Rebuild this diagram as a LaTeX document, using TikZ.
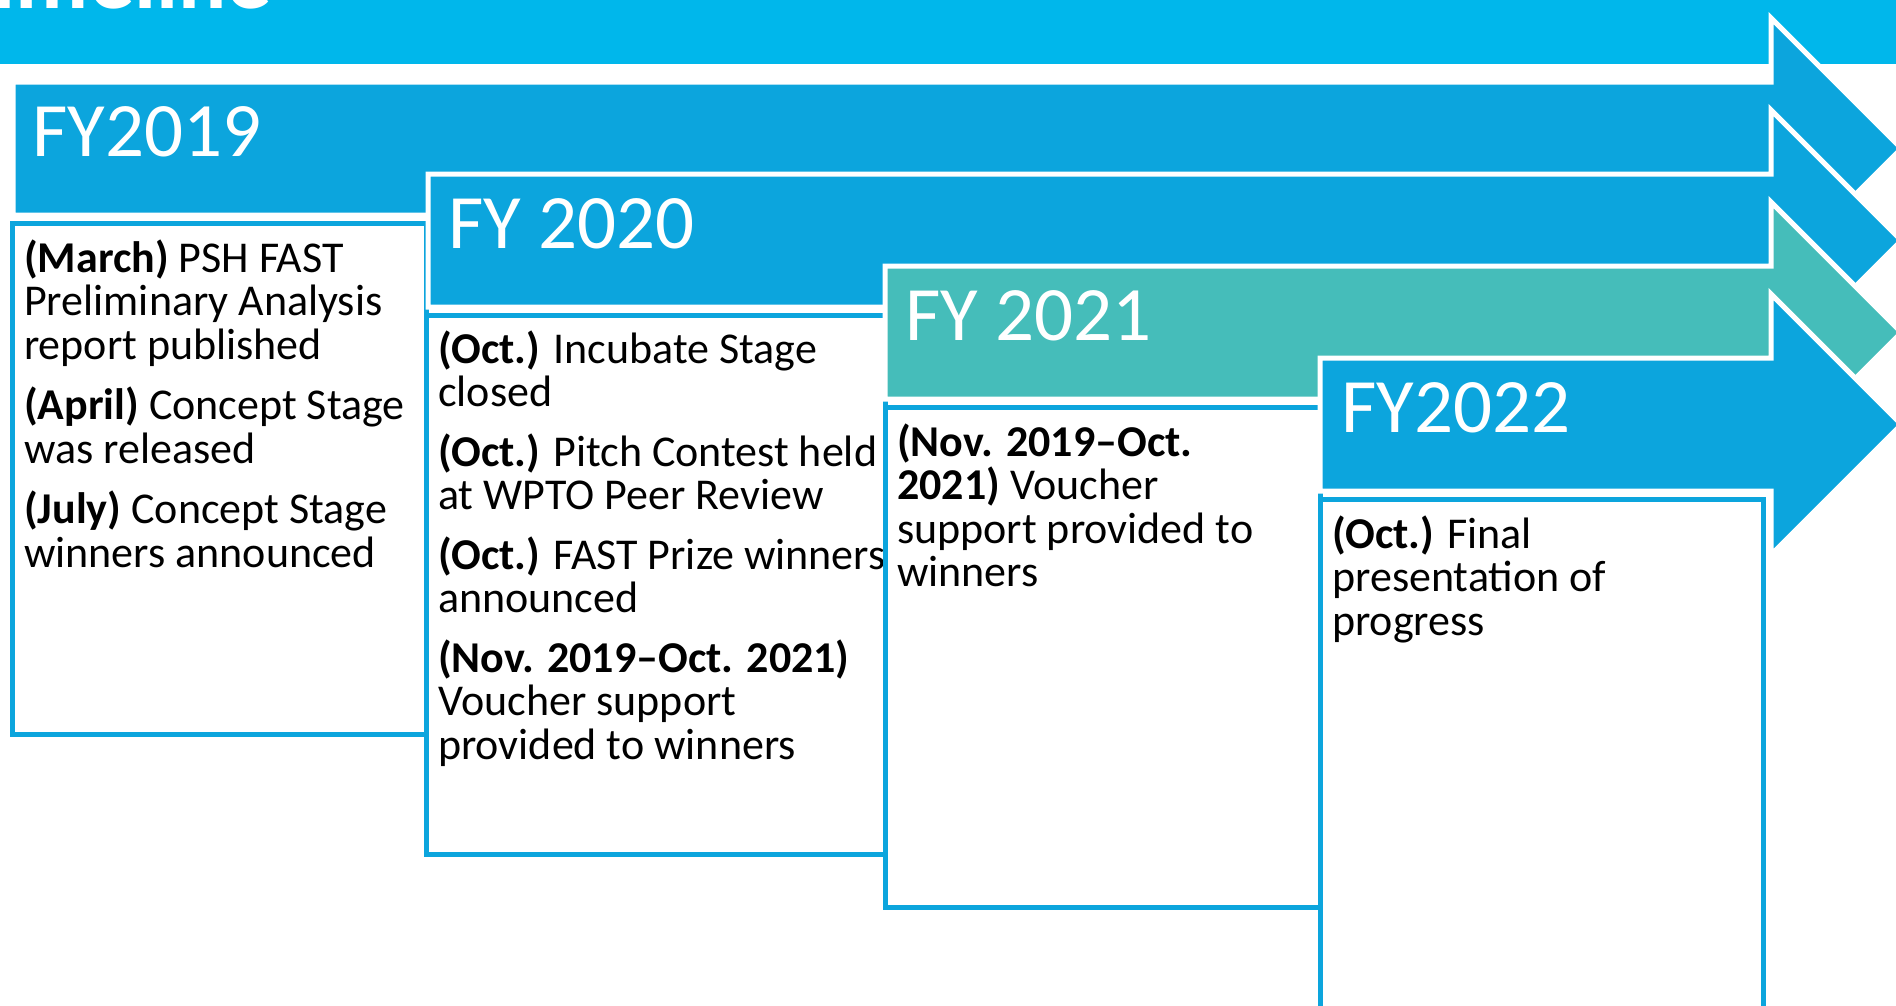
\documentclass[tikz,border=0pt]{standalone}
\usepackage{fontspec}
\setmainfont{Carlito}
\begin{document}
\begin{tikzpicture}[x=1pt, y=-1pt,
    % Colors
    cbar/.style={fill={rgb,255:red,0;green,183;blue,235}},
    cblue/.style={fill={rgb,255:red,12;green,165;blue,221}},
    cteal/.style={fill={rgb,255:red,69;green,189;blue,186}},
    % Styles
    yeararrow/.style={draw=white, line width=5pt, line join=miter},
    yearlbl/.style={anchor=base west, inner sep=0pt, text=white,
                    font=\fontsize{77}{77}\selectfont},
    yearbox/.style={draw={rgb,255:red,12;green,165;blue,221}, fill=white, line width=5pt,
                    anchor=north west, inner sep=0pt, outer sep=0pt},
    itemtext/.style={anchor=north west, inner sep=0pt, align=left,
                     font=\fontsize{44}{43.5}\selectfont},
  ]
  \useasboundingbox (0,0) rectangle (1896,1005);

  % Title bar
  \path[cbar] (0,0) rectangle (1896,64);
  \node[anchor=base west, inner sep=0pt, text=white,
        font=\bfseries\fontsize{90}{90}\selectfont] (title) at (-51,8) {Timeline};

  % FY2019
  \path[yeararrow, cblue] (13,82) -- (1771,82) -- (1771,18) -- (1901.5,148.5)
    -- (1771,279) -- (1771,215) -- (13,215) -- cycle;
  \node[yearlbl] (lbl19) at (32,156) {FY2019};
  \node[yearbox, minimum width=414pt, minimum height=511pt] (box19) at (12,223) {};
  \node[itemtext] (txt19) at ([xshift=12pt, yshift=-13pt]box19.north west) {
    \rule{0pt}{36pt}\textbf{(March)} PSH FAST\\
    Preliminary Analysis\\
    report published\\[17pt]
    \textbf{(April)} Concept Stage\\
    was released\\[17pt]
    \textbf{(July)} Concept Stage\\
    winners announced
  };

  % FY 2020
  \path[yeararrow, cblue] (428,174) -- (1771,174) -- (1771,110) -- (1901.5,240.5)
    -- (1771,371) -- (1771,307) -- (428,307) -- cycle;
  \node[yearlbl] (lbl20) at (448,248) {FY 2020};
  \node[yearbox, minimum width=459pt, minimum height=539pt] (box20) at (426,315) {};
  \node[itemtext] (txt20) at ([xshift=12pt, yshift=-12pt]box20.north west) {
    \rule{0pt}{36pt}\textbf{(Oct.)} Incubate Stage\\
    closed\\[16pt]
    \textbf{(Oct.)} Pitch Contest held\\
    at WPTO Peer Review\\[16pt]
    \textbf{(Oct.)} FAST Prize winners\\
    announced\\[16pt]
    \textbf{(Nov. 2019--Oct. 2021)}\\
    Voucher support\\
    provided to winners
  };

  % FY 2021
  \path[yeararrow, cteal] (885,266) -- (1771,266) -- (1771,202) -- (1901.5,332.5)
    -- (1771,463) -- (1771,399) -- (885,399) -- cycle;
  \node[yearlbl] (lbl21) at (905,340) {FY 2021};
  \node[yearbox, minimum width=435pt, minimum height=500pt] (box21) at (885,407) {};
  \node[itemtext] (txt21) at ([xshift=12pt, yshift=-13pt]box21.north west) {
    \rule{0pt}{36pt}\textbf{(Nov. 2019--Oct.}\\
    \textbf{2021)} Voucher\\
    support provided to\\
    winners
  };

  % FY2022
  \path[yeararrow, cblue] (1320,358) -- (1771,358) -- (1771,294) -- (1901.5,424.5)
    -- (1771,555) -- (1771,491) -- (1320,491) -- cycle;
  \node[yearlbl] (lbl22) at (1341,432) {FY2022};
  \node[yearbox, minimum width=443pt, minimum height=530pt] (box22) at (1320,499) {};
  \node[itemtext] (txt22) at ([xshift=12pt, yshift=-13pt]box22.north west) {
    \rule{0pt}{36pt}\textbf{(Oct.)} Final\\
    presentation of\\
    progress
  };

\end{tikzpicture}
\end{document}
